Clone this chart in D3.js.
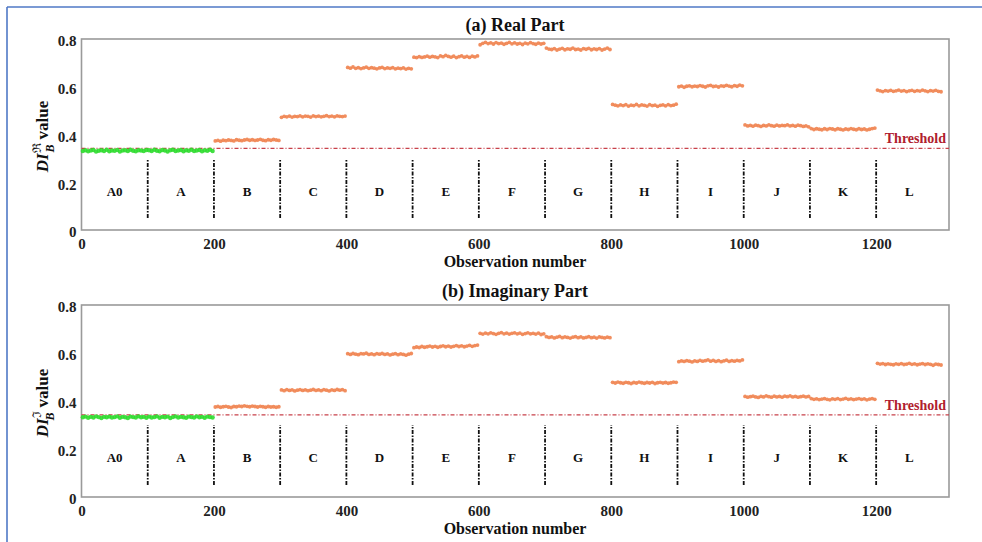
<!DOCTYPE html>
<meta charset="utf-8">
<style type="text/css">
    body { margin: 0; background: #fff; }
    text { font-family: "Liberation Serif", "DejaVu Serif", serif; }
    .box { fill: none; stroke: #9a9a9a; stroke-width: 1.6; }
    .tick-label { font-size: 15px; font-weight: bold; fill: #222; }
    .title { font-size: 18px; font-weight: bold; fill: #111; }
    .xlabel { font-size: 16px; font-weight: bold; fill: #111; }
    .seg-label { font-size: 13px; font-weight: bold; fill: #111; }
    .thr-line { stroke: #c8404a; stroke-width: 1.3; stroke-dasharray: 4,2,1,2; }
    .thr-label { font-size: 14px; font-weight: bold; fill: #b0202e; }
    .divider { stroke: #111; stroke-width: 1.8; stroke-dasharray: 4,1.5,1.5,1.5; }
</style>
<body>
</body>
<script src="https://d3js.org/d3.v7.min.js"></script>
<script>
// segment names and the 100-observation blocks they cover
var segments = ["A0", "A", "B", "C", "D", "E", "F", "G", "H", "I", "J", "K", "L"];
var boundaries = [100, 200, 300, 400, 500, 600, 700, 800, 900, 1000, 1100, 1200];
var xTicks = [0, 200, 400, 600, 800, 1000, 1200];
var yTicks = [0, 0.2, 0.4, 0.6, 0.8];
var thresholdReal = 0.342;
var thresholdImag = 0.342;

// DI values, every 4th observation of each block (obs = 100*k + 2 + 4*i)
var realValues = [
    [0.331,0.334,0.330,0.333,0.335,0.329,0.332,0.334,0.331,0.336,0.330,0.333,0.332,0.335,0.329,0.333,0.334,0.331,0.336,0.332,0.330,0.334,0.333,0.331,0.335],
    [0.334,0.331,0.336,0.332,0.330,0.335,0.333,0.329,0.334,0.336,0.331,0.333,0.335,0.330,0.334,0.332,0.336,0.331,0.333,0.335,0.330,0.334,0.332,0.336,0.331],
    [0.373,0.375,0.372,0.376,0.374,0.377,0.375,0.373,0.378,0.376,0.374,0.377,0.379,0.376,0.378,0.375,0.377,0.380,0.376,0.374,0.378,0.376,0.379,0.377,0.375],
    [0.472,0.476,0.474,0.477,0.473,0.476,0.475,0.478,0.474,0.477,0.476,0.473,0.478,0.475,0.477,0.474,0.476,0.479,0.475,0.477,0.474,0.478,0.476,0.475,0.477],
    [0.681,0.678,0.683,0.677,0.680,0.676,0.679,0.682,0.677,0.680,0.678,0.675,0.679,0.681,0.676,0.679,0.677,0.680,0.675,0.678,0.676,0.679,0.674,0.677,0.675],
    [0.724,0.722,0.726,0.723,0.725,0.728,0.724,0.727,0.725,0.722,0.729,0.726,0.731,0.727,0.724,0.728,0.722,0.726,0.729,0.724,0.727,0.723,0.728,0.725,0.729],
    [0.776,0.782,0.786,0.781,0.784,0.779,0.785,0.781,0.783,0.778,0.782,0.786,0.780,0.784,0.779,0.782,0.777,0.783,0.780,0.785,0.781,0.778,0.783,0.779,0.782],
    [0.762,0.758,0.756,0.760,0.754,0.758,0.761,0.755,0.759,0.757,0.762,0.756,0.758,0.754,0.760,0.757,0.761,0.755,0.759,0.756,0.760,0.754,0.758,0.762,0.756],
    [0.526,0.523,0.520,0.524,0.521,0.525,0.519,0.523,0.521,0.526,0.520,0.524,0.522,0.519,0.525,0.521,0.523,0.518,0.522,0.524,0.520,0.525,0.521,0.523,0.527],
    [0.600,0.603,0.598,0.602,0.604,0.600,0.603,0.601,0.605,0.602,0.599,0.604,0.606,0.601,0.603,0.599,0.604,0.602,0.606,0.603,0.600,0.605,0.602,0.607,0.604],
    [0.440,0.436,0.438,0.435,0.439,0.437,0.434,0.438,0.436,0.440,0.437,0.435,0.439,0.436,0.438,0.437,0.440,0.436,0.438,0.435,0.439,0.437,0.434,0.436,0.432],
    [0.425,0.421,0.424,0.422,0.420,0.424,0.421,0.425,0.423,0.420,0.424,0.422,0.419,0.423,0.421,0.425,0.422,0.420,0.424,0.421,0.423,0.419,0.422,0.425,0.427],
    [0.586,0.583,0.580,0.584,0.582,0.585,0.581,0.583,0.586,0.582,0.584,0.580,0.583,0.585,0.581,0.584,0.582,0.586,0.583,0.580,0.584,0.582,0.585,0.581,0.579]
];

var imagValues = [
    [0.332,0.335,0.330,0.334,0.331,0.336,0.333,0.329,0.334,0.332,0.335,0.331,0.333,0.336,0.330,0.334,0.332,0.329,0.335,0.333,0.331,0.336,0.332,0.334,0.330],
    [0.335,0.331,0.333,0.336,0.330,0.334,0.332,0.335,0.329,0.333,0.336,0.331,0.334,0.332,0.330,0.335,0.333,0.331,0.336,0.332,0.334,0.330,0.335,0.333,0.331],
    [0.375,0.377,0.374,0.376,0.378,0.375,0.373,0.377,0.376,0.379,0.377,0.380,0.378,0.376,0.379,0.377,0.375,0.378,0.376,0.374,0.377,0.375,0.376,0.374,0.376],
    [0.446,0.443,0.447,0.444,0.446,0.442,0.445,0.447,0.444,0.446,0.443,0.445,0.448,0.444,0.446,0.443,0.447,0.445,0.442,0.446,0.444,0.448,0.445,0.447,0.443],
    [0.597,0.594,0.598,0.595,0.593,0.597,0.596,0.599,0.594,0.596,0.593,0.597,0.595,0.598,0.594,0.596,0.592,0.595,0.597,0.593,0.596,0.594,0.591,0.595,0.598],
    [0.622,0.625,0.623,0.627,0.624,0.626,0.629,0.625,0.628,0.624,0.627,0.630,0.626,0.629,0.625,0.628,0.631,0.627,0.630,0.626,0.629,0.632,0.628,0.631,0.633],
    [0.682,0.679,0.683,0.680,0.684,0.681,0.678,0.682,0.685,0.680,0.683,0.679,0.682,0.684,0.680,0.683,0.678,0.681,0.684,0.680,0.682,0.679,0.683,0.677,0.680],
    [0.668,0.665,0.667,0.663,0.666,0.669,0.664,0.667,0.665,0.662,0.666,0.668,0.664,0.667,0.663,0.665,0.668,0.664,0.666,0.662,0.667,0.665,0.663,0.666,0.664],
    [0.478,0.475,0.479,0.476,0.474,0.478,0.476,0.473,0.477,0.475,0.479,0.476,0.474,0.477,0.475,0.478,0.473,0.476,0.478,0.475,0.477,0.474,0.476,0.479,0.478],
    [0.564,0.567,0.565,0.568,0.566,0.563,0.567,0.565,0.569,0.566,0.568,0.571,0.566,0.569,0.565,0.568,0.564,0.567,0.570,0.565,0.568,0.566,0.569,0.567,0.571],
    [0.419,0.416,0.418,0.420,0.417,0.415,0.419,0.417,0.421,0.418,0.416,0.420,0.417,0.419,0.416,0.420,0.418,0.421,0.417,0.419,0.416,0.418,0.420,0.417,0.419],
    [0.410,0.407,0.409,0.406,0.408,0.410,0.407,0.405,0.409,0.407,0.410,0.406,0.408,0.411,0.407,0.409,0.406,0.408,0.410,0.407,0.409,0.405,0.408,0.410,0.407],
    [0.557,0.554,0.556,0.552,0.555,0.553,0.551,0.555,0.553,0.556,0.552,0.554,0.557,0.553,0.555,0.551,0.554,0.556,0.552,0.555,0.553,0.549,0.554,0.552,0.550]
];

var W = 982, H = 542;
var svg = d3.select("body").append("svg")
    .attr("width", W)
    .attr("height", H);

// blue frame around the picture (top and left edges)
svg.append("line").attr("x1", 7).attr("x2", W).attr("y1", 7).attr("y2", 7)
    .attr("stroke", "#4f78c6").attr("stroke-width", 1.6);
svg.append("line").attr("x1", 7).attr("x2", 7).attr("y1", 7).attr("y2", H)
    .attr("stroke", "#4f78c6").attr("stroke-width", 1.6);

var x = d3.scaleLinear().domain([0, 1310]).range([81.5, 949]);

function drawPanel(top, bottom, title, values, threshold, symbol) {
    var y = d3.scaleLinear().domain([0, 0.8]).range([bottom, top]);
    var g = svg.append("g");

    // title
    g.append("text").attr("class", "title")
        .attr("x", 515).attr("y", top - 8)
        .attr("text-anchor", "middle").text(title);

    // plot frame
    g.append("rect").attr("class", "box")
        .attr("x", x(0)).attr("y", top)
        .attr("width", x(1310) - x(0)).attr("height", bottom - top);

    // axes, labels only
    var xa = g.append("g").attr("transform", "translate(0," + bottom + ")")
        .call(d3.axisBottom(x).tickValues(xTicks).tickSize(0).tickPadding(8).tickFormat(d3.format("d")));
    xa.attr("font-family", null).attr("font-size", null);
    xa.select(".domain").remove();
    xa.selectAll("text").attr("class", "tick-label");

    var ya = g.append("g").attr("transform", "translate(" + x(0) + ",0)")
        .call(d3.axisLeft(y).tickValues(yTicks).tickSize(0).tickPadding(5)
            .tickFormat(function (d) { return d === 0 ? "0" : d3.format(".1f")(d); }));
    ya.attr("font-family", null).attr("font-size", null);
    ya.select(".domain").remove();
    ya.selectAll("text").attr("class", "tick-label").attr("dy", "0.45em");

    // x axis title
    g.append("text").attr("class", "xlabel")
        .attr("x", 515).attr("y", bottom + 37)
        .attr("text-anchor", "middle").text("Observation number");

    // y axis title: DI_B^symbol value
    var yl = g.append("text")
        .attr("transform", "translate(48," + ((top + bottom) / 2 + 2) + ") rotate(-90)")
        .attr("text-anchor", "middle")
        .attr("font-size", "17px").attr("font-weight", "bold").attr("fill", "#111");
    yl.append("tspan").attr("font-style", "italic").text("DI");
    yl.append("tspan").attr("font-size", "12px").attr("dy", "-7").attr("font-weight", "normal").text(symbol);
    yl.append("tspan").attr("font-size", "12px").attr("font-style", "italic").attr("dx", "-9").attr("dy", "13").text("B");
    yl.append("tspan").attr("dy", "-6").attr("dx", "5").text("value");

    // vertical block dividers
    g.selectAll(".divider").data(boundaries).enter().append("line")
        .attr("class", "divider")
        .attr("x1", function (d) { return x(d); }).attr("x2", function (d) { return x(d); })
        .attr("y1", y(0.05)).attr("y2", y(0.30));

    // block labels
    g.selectAll(".seg-label").data(segments).enter().append("text")
        .attr("class", "seg-label")
        .attr("x", function (d, i) { return x(i * 100 + 50); })
        .attr("y", y(0.163))
        .attr("text-anchor", "middle").attr("dy", "0.35em")
        .text(function (d) { return d; });

    // threshold line and label
    g.append("line").attr("class", "thr-line")
        .attr("x1", x(0)).attr("x2", x(1310))
        .attr("y1", y(threshold)).attr("y2", y(threshold));
    g.append("text").attr("class", "thr-label")
        .attr("x", x(1310) - 3).attr("y", y(threshold) - 5)
        .attr("text-anchor", "end").text("Threshold");

    // points
    var pts = [];
    values.forEach(function (seg, k) {
        seg.forEach(function (v, i) {
            pts.push({ obs: k * 100 + 2 + 4 * i, v: v, healthy: k < 2 });
        });
    });
    g.selectAll(".pt").data(pts).enter().append("circle")
        .attr("class", "pt")
        .attr("cx", function (d) { return x(d.obs); })
        .attr("cy", function (d) { return y(d.v); })
        .attr("r", function (d) { return d.healthy ? 2.2 : 1.9; })
        .attr("fill", function (d) { return d.healthy ? "#2fdc2f" : "#f0824e"; })
        .attr("fill-opacity", 0.9);
}

drawPanel(39, 230, "(a) Real Part", realValues, thresholdReal, "\u211C");
drawPanel(305, 497, "(b) Imaginary Part", imagValues, thresholdImag, "\u2111");
</script>
